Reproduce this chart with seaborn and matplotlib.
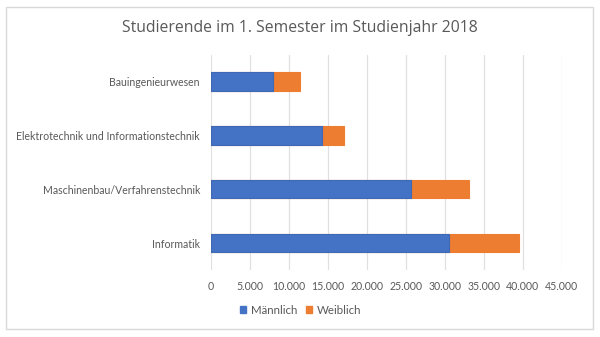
import matplotlib
matplotlib.use("Agg")
import matplotlib.pyplot as plt
import seaborn as sns
import pandas as pd
from matplotlib.patches import Rectangle
from matplotlib.ticker import FuncFormatter

categories = ["Bauingenieurwesen", "Elektrotechnik und Informationstechnik",
              "Maschinenbau/Verfahrenstechnik", "Informatik"]
maennlich = [8000, 14300, 25600, 30600]
weiblich = [3400, 2800, 7500, 8900]
series_names = ["Männlich", "Weiblich"]
colors = ["#4472C4", "#ED7D31"]
title = "Studierende im 1. Semester im Studienjahr 2018"

sns.set_theme(style="white")
plt.rcParams["font.family"] = ["Lato", "DejaVu Sans"]
txt = "#595959"

fig = plt.figure(figsize=(6, 3.37), dpi=100)
ax = fig.add_axes([211/600, 1-270/337, (561.7-211)/600, (270-54.7)/337])

df = pd.DataFrame({"Kategorie": categories, "M": maennlich,
                   "T": [m + w for m, w in zip(maennlich, weiblich)]})

sns.barplot(data=df, y="Kategorie", x="T", color=colors[1], width=0.34,
            ax=ax, orient="h", saturation=1, edgecolor=colors[1], linewidth=0.8, zorder=3)
sns.barplot(data=df, y="Kategorie", x="M", color=colors[0], width=0.34,
            ax=ax, orient="h", saturation=1, edgecolor="#3F68B5", linewidth=0.8, zorder=4)

ax.set_xlim(0, 45000)
ax.set_xticks(range(0, 45001, 5000))
ax.xaxis.set_major_formatter(FuncFormatter(lambda v, p: f"{int(v):,}".replace(",", ".")))
ax.grid(axis="x", color="#E0E0E0", linewidth=0.9, zorder=0)
ax.set_axisbelow(True)
for s in ax.spines.values():
    s.set_visible(False)
ax.set_xlabel("")
ax.set_ylabel("")
ax.tick_params(axis="x", length=0, labelsize=7.6, labelcolor=txt, pad=8)
ax.tick_params(axis="y", length=0, labelsize=7.6, labelcolor=txt, pad=8)

fig.text(0.5, 1-28/337, title, ha="center", va="center", fontsize=11.3,
         color=txt, family=["Open Sans", "DejaVu Sans"])

handles = [Rectangle((0, 0), 1, 1, color=c) for c in colors]
fig.legend(handles, series_names, loc="center", bbox_to_anchor=(0.501, 1-310/337),
           ncol=2, frameon=False, fontsize=8.3, handlelength=0.55, handleheight=0.55,
           handletextpad=0.4, columnspacing=0.8, labelcolor=txt)

fig.add_artist(Rectangle((6/600, 1-329/337), (593-6)/600, (329-7)/337,
                         transform=fig.transFigure, fill=False,
                         edgecolor="#D9D9D9", linewidth=1))

fig.savefig("out.png", dpi=100)
